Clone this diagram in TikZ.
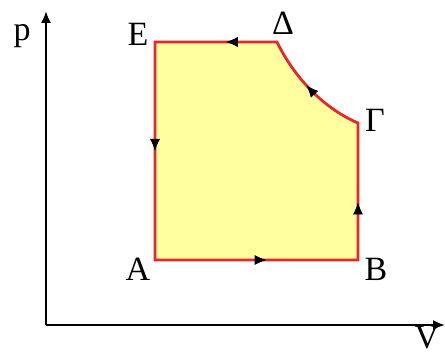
\documentclass[tikz,border=0pt]{standalone}
\usepackage{fontspec}
\setmainfont{Liberation Serif}
\usetikzlibrary{arrows.meta,decorations.markings}

\definecolor{cyclered}{RGB}{230,40,40}
\definecolor{cyclefill}{RGB}{255,255,160}

\tikzset{
  axis/.style={line width=1pt, -{Latex[length=6pt,width=5pt]}},
  cycleline/.style={draw=cyclered, line width=1.4pt, fill=cyclefill, line join=miter},
  midarrow/.style={postaction={decorate, decoration={markings,
      mark=at position #1 with {\arrow{Latex[length=6pt,width=5pt]}}}}},
  lbl/.style={font=\fontsize{17}{20}\selectfont, inner sep=0pt}
}

\begin{document}
\begin{tikzpicture}[x=0.5pt, y=0.5pt]
  \useasboundingbox (0,0) rectangle (445,354);
  % corners of the cycle
  \coordinate (A) at (155,94);
  \coordinate (B) at (358,94);
  \coordinate (G) at (358,231);
  \coordinate (D) at (277,312);
  \coordinate (E) at (155,312);
  % axes
  \coordinate (O) at (46,29);
  \coordinate (ptop) at (46,343);
  \coordinate (vend) at (445,29);
  \draw[axis] (O) -- (ptop);
  \draw[axis] (O) -- (vend);
  \node[lbl] (plabel) at (22,318) {p};
  \node[lbl] (vlabel) at (427,16) {V};
  % the cycle A -> B -> G -> D -> E -> A
  \draw[cycleline] (A) -- (B) -- (G) .. controls (325,245) and (295,275) .. (D) -- (E) -- cycle;
  \path[midarrow=0.55] (A) -- (B);
  \path[midarrow=0.42] (B) -- (G);
  \path[midarrow=0.55] (G) .. controls (325,245) and (295,275) .. (D);
  \path[midarrow=0.42] (D) -- (E);
  \path[midarrow=0.5] (E) -- (A);
  % state labels
  \node[lbl] (alabel) at (138,85) {A};
  \node[lbl] (blabel) at (376,85) {B};
  \node[lbl] (glabel) at (375,234) {Γ};
  \node[lbl] (dlabel) at (283,331) {Δ};
  \node[lbl] (elabel) at (138,320) {E};
\end{tikzpicture}
\end{document}
